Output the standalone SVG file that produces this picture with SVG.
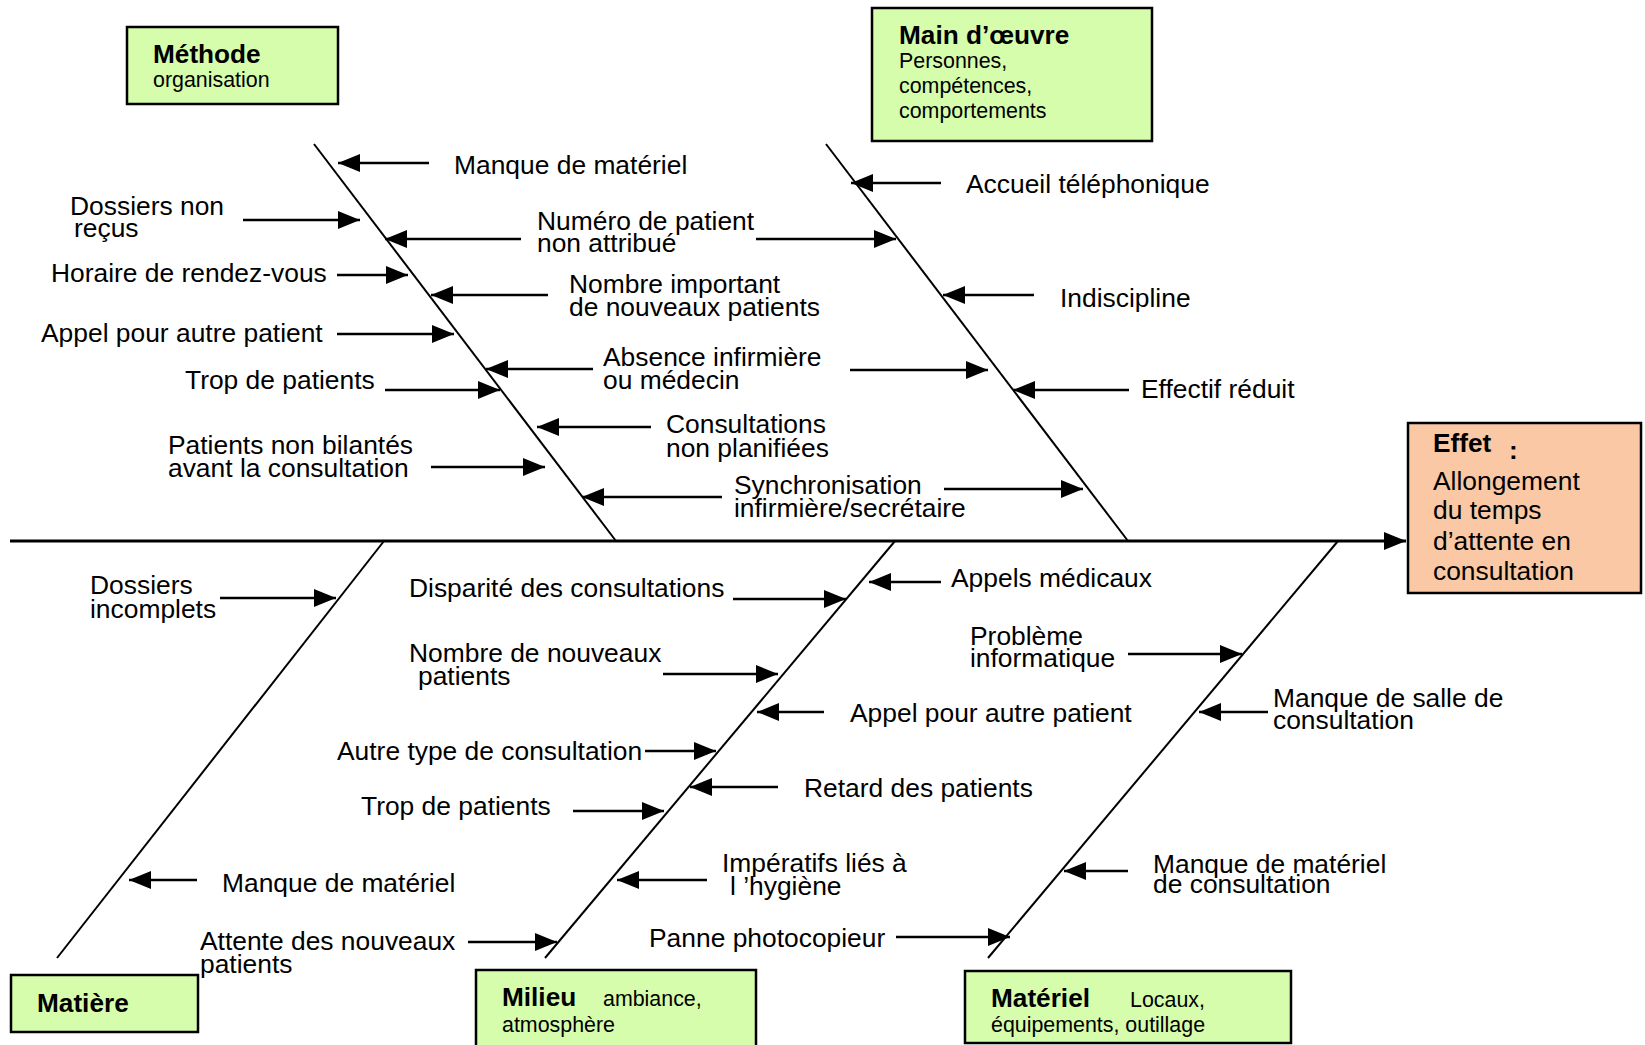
<svg xmlns="http://www.w3.org/2000/svg" width="1645" height="1045" viewBox="0 0 1645 1045">
<style>
text { font-family: "Liberation Sans", Arial, Helvetica, sans-serif; fill: #000; }
.lbl { font-size: 26.4px; }
.ttl { font-size: 26.2px; font-weight: bold; }
.sub { font-size: 21.4px; }
.box { fill: #D6FDAB; stroke: #000; stroke-width: 2.5; }
.eff { fill: #FAC8A4; stroke: #000; stroke-width: 2.5; }
.bone { stroke: #000; stroke-width: 2; fill: none; }
.spine { stroke: #000; stroke-width: 2.8; fill: none; marker-end: url(#ah); }
.arr { stroke: #000; stroke-width: 2.5; fill: none; marker-end: url(#ah); }
</style>
<defs>
<marker id="ah" markerUnits="userSpaceOnUse" markerWidth="24" markerHeight="20" refX="22" refY="10" orient="auto">
<path d="M0,1 L22,10 L0,19 z" fill="#000"/>
</marker>
</defs>
<rect width="1645" height="1045" fill="#fff"/>

<g id="connectors">
<line class="spine" x1="10" y1="541" x2="1406" y2="541"/>
<line class="bone" x1="314" y1="144" x2="616" y2="541"/>
<line class="bone" x1="826" y1="144" x2="1128" y2="541"/>
<line class="bone" x1="384" y1="541" x2="57" y2="958"/>
<line class="bone" x1="895" y1="541" x2="545" y2="958"/>
<line class="bone" x1="1338" y1="541" x2="988" y2="958"/>

<line class="arr" x1="429" y1="163" x2="338" y2="163"/>
<line class="arr" x1="243" y1="220" x2="360" y2="220"/>
<line class="arr" x1="521" y1="239" x2="385" y2="239"/>
<line class="arr" x1="756" y1="239" x2="896" y2="239"/>
<line class="arr" x1="337" y1="275" x2="408" y2="275"/>
<line class="arr" x1="548" y1="295" x2="431" y2="295"/>
<line class="arr" x1="337" y1="334" x2="454" y2="334"/>
<line class="arr" x1="593" y1="369" x2="486" y2="369"/>
<line class="arr" x1="850" y1="370" x2="988" y2="370"/>
<line class="arr" x1="385" y1="390" x2="500" y2="390"/>
<line class="arr" x1="651" y1="427" x2="537" y2="427"/>
<line class="arr" x1="431" y1="467" x2="545" y2="467"/>
<line class="arr" x1="722" y1="497" x2="582" y2="497"/>
<line class="arr" x1="944" y1="489" x2="1083" y2="489"/>
<line class="arr" x1="941" y1="183" x2="851" y2="183"/>
<line class="arr" x1="1034" y1="295" x2="943" y2="295"/>
<line class="arr" x1="1129" y1="390" x2="1013" y2="390"/>

<line class="arr" x1="220" y1="598" x2="336" y2="598"/>
<line class="arr" x1="197" y1="880" x2="129" y2="880"/>
<line class="arr" x1="468" y1="942" x2="557" y2="942"/>
<line class="arr" x1="733" y1="599" x2="846" y2="599"/>
<line class="arr" x1="941" y1="582" x2="869" y2="582"/>
<line class="arr" x1="663" y1="674" x2="778" y2="674"/>
<line class="arr" x1="824" y1="712" x2="757" y2="712"/>
<line class="arr" x1="645" y1="751" x2="716" y2="751"/>
<line class="arr" x1="778" y1="787" x2="690" y2="787"/>
<line class="arr" x1="573" y1="811" x2="664" y2="811"/>
<line class="arr" x1="707" y1="880" x2="617" y2="880"/>
<line class="arr" x1="896" y1="937" x2="1010" y2="937"/>
<line class="arr" x1="1128" y1="654" x2="1242" y2="654"/>
<line class="arr" x1="1268" y1="712" x2="1199" y2="712"/>
<line class="arr" x1="1128" y1="871" x2="1064" y2="871"/>
</g>

<g id="methode">
<rect class="box" x="127" y="27" width="211" height="77"/>
<text class="ttl" x="153" y="63">Méthode</text>
<text class="sub" x="153" y="87">organisation</text>
</g>
<g id="main-oeuvre">
<rect class="box" x="872" y="8" width="280" height="133"/>
<text class="ttl" x="899" y="44">Main d’œuvre</text>
<text class="sub"><tspan x="899" y="68">Personnes,</tspan><tspan x="899" y="93">compétences,</tspan><tspan x="899" y="118">comportements</tspan></text>
</g>
<g id="effet">
<rect class="eff" x="1408" y="423" width="233" height="170"/>
<text class="ttl" x="1433" y="452">Effet</text>
<text class="ttl" x="1509" y="459">:</text>
<text class="lbl"><tspan x="1433" y="490">Allongement</tspan><tspan x="1433" y="519">du temps</tspan><tspan x="1433" y="550">d’attente en</tspan><tspan x="1433" y="580">consultation</tspan></text>
</g>
<g id="matiere">
<rect class="box" x="11" y="975" width="187" height="57"/>
<text class="ttl" x="37" y="1012">Matière</text>
</g>
<g id="milieu">
<rect class="box" x="476" y="970" width="280" height="82"/>
<text class="ttl" x="502" y="1006">Milieu</text>
<text class="sub" x="603" y="1006">ambiance,</text>
<text class="sub" x="502" y="1032">atmosphère</text>
</g>
<g id="materiel">
<rect class="box" x="965" y="971" width="326" height="72"/>
<text class="ttl" x="991" y="1007">Matériel</text>
<text class="sub" x="1130" y="1007">Locaux,</text>
<text class="sub" x="991" y="1032">équipements, outillage</text>
</g>

<g id="causes-methode">
<text class="lbl" x="454" y="174">Manque de matériel</text>
<text class="lbl"><tspan x="70" y="215">Dossiers non</tspan><tspan x="74" y="237">reçus</tspan></text>
<text class="lbl"><tspan x="537" y="230">Numéro de patient</tspan><tspan x="537" y="252">non attribué</tspan></text>
<text class="lbl" x="51" y="282">Horaire de rendez-vous</text>
<text class="lbl"><tspan x="569" y="293">Nombre important</tspan><tspan x="569" y="316">de nouveaux patients</tspan></text>
<text class="lbl" x="41" y="342">Appel pour autre patient</text>
<text class="lbl"><tspan x="603" y="366">Absence infirmière</tspan><tspan x="603" y="389">ou médecin</tspan></text>
<text class="lbl" x="185" y="389">Trop de patients</text>
<text class="lbl"><tspan x="666" y="433">Consultations</tspan><tspan x="666" y="457">non planifiées</tspan></text>
<text class="lbl"><tspan x="168" y="454">Patients non bilantés</tspan><tspan x="168" y="477">avant la consultation</tspan></text>
<text class="lbl"><tspan x="734" y="494">Synchronisation</tspan><tspan x="734" y="517">infirmière/secrétaire</tspan></text>
</g>
<g id="causes-main-oeuvre">
<text class="lbl" x="966" y="193">Accueil téléphonique</text>
<text class="lbl" x="1060" y="307">Indiscipline</text>
<text class="lbl" x="1141" y="398">Effectif réduit</text>
</g>
<g id="causes-matiere">
<text class="lbl"><tspan x="90" y="594">Dossiers</tspan><tspan x="90" y="618">incomplets</tspan></text>
<text class="lbl" x="222" y="892">Manque de matériel</text>
</g>
<g id="causes-milieu">
<text class="lbl"><tspan x="200" y="950">Attente des nouveaux</tspan><tspan x="200" y="973">patients</tspan></text>
<text class="lbl" x="409" y="597">Disparité des consultations</text>
<text class="lbl" x="951" y="587">Appels médicaux</text>
<text class="lbl"><tspan x="409" y="662">Nombre de nouveaux</tspan><tspan x="418" y="685">patients</tspan></text>
<text class="lbl" x="850" y="722">Appel pour autre patient</text>
<text class="lbl" x="337" y="760">Autre type de consultation</text>
<text class="lbl" x="804" y="797">Retard des patients</text>
<text class="lbl" x="361" y="815">Trop de patients</text>
<text class="lbl"><tspan x="722" y="872">Impératifs liés à</tspan><tspan x="730" y="895">l ’hygiène</tspan></text>
</g>
<g id="causes-materiel">
<text class="lbl" x="649" y="947">Panne photocopieur</text>
<text class="lbl"><tspan x="970" y="645">Problème</tspan><tspan x="970" y="667">informatique</tspan></text>
<text class="lbl"><tspan x="1273" y="707">Manque de salle de</tspan><tspan x="1273" y="729">consultation</tspan></text>
<text class="lbl"><tspan x="1153" y="873">Manque de matériel</tspan><tspan x="1153" y="893">de consultation</tspan></text>
</g>
</svg>
